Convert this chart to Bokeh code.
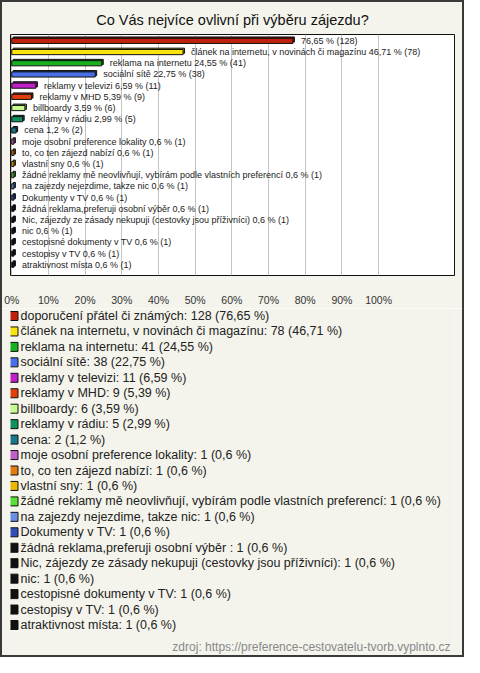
from bokeh.plotting import figure
from bokeh.models import Range1d, FixedTicker, ColumnDataSource, Label, InlineStyleSheet
from bokeh.layouts import column
from bokeh.core.properties import value
from bokeh.transform import dodge
from bokeh.embed import file_html
from bokeh.resources import INLINE

title_text = "Co Vás nejvíce ovlivní při výběru zájezdu?"
source_text = "zdroj: https://preference-cestovatelu-tvorb.vyplnto.cz"

categories = [
    "doporučení přátel či známých",
    "článek na internetu, v novinách či magazínu",
    "reklama na internetu",
    "sociální sítě",
    "reklamy v televizi",
    "reklamy v MHD",
    "billboardy",
    "reklamy v rádiu",
    "cena",
    "moje osobní preference lokality",
    "to, co ten zájezd nabízí",
    "vlastní sny",
    "žádné reklamy mě neovlivňují, vybírám podle vlastních preferencí",
    "na zajezdy nejezdime, takze nic",
    "Dokumenty v TV",
    "žádná reklama,preferuji osobní výběr ",
    "Nic, zájezdy ze zásady nekupuji (cestovky jsou příživníci)",
    "nic",
    "cestopisné dokumenty v TV",
    "cestopisy v TV",
    "atraktivnost místa",
]
counts = [128, 78, 41, 38, 11, 9, 6, 5, 2, 1, 1, 1, 1, 1, 1, 1, 1, 1, 1, 1, 1]
percents = [76.65, 46.71, 24.55, 22.75, 6.59, 5.39, 3.59, 2.99, 1.2,
            0.6, 0.6, 0.6, 0.6, 0.6, 0.6, 0.6, 0.6, 0.6, 0.6, 0.6, 0.6]
colors = ["#c0200f", "#f8e40c", "#18b01c", "#4a70e8", "#c020c8", "#e0400c",
          "#c8f890", "#10905c", "#1c7888", "#c060c8", "#e07c10", "#e8b800",
          "#58e038", "#6890e0", "#3050b8", "#111111", "#111111", "#111111",
          "#111111", "#111111", "#111111"]
tick_values = [0, 10, 20, 30, 40, 50, 60, 70, 80, 90, 100]
tick_labels = ["0%", "10%", "20%", "30%", "40%", "50%", "60%", "70%", "80%", "90%", "100%"]


def fmt(v):
    return ("%g" % v).replace(".", ",")


def darker(c, f=0.6):
    r, g, b = int(c[1:3], 16), int(c[3:5], 16), int(c[5:7], 16)
    return "#%02x%02x%02x" % (int(r * f), int(g * f), int(b * f))


n = len(categories)
ypos = list(range(n))
bar_labels = [("" if i == 0 else categories[i] + " ") + f"{fmt(percents[i])} % ({counts[i]})" for i in range(n)]
legend_labels = [f"{categories[i]}: {counts[i]} ({fmt(percents[i])} %)" for i in range(n)]

src = ColumnDataSource(dict(
    y=ypos, left=[0] * n, right=percents, color=colors,
    shade=[darker(c) for c in colors], label=bar_labels,
    legend=legend_labels,
))

BG = "#f4f4ec"
FONT = "Liberation Sans"
W = 464
H1 = 308
H2 = 657 - H1
M = 10
BORDER = "#3a3a3a"

# ---------------- chart ----------------
p = figure(width=W, height=H1, output_backend="svg", toolbar_location=None,
           x_range=Range1d(-0.34, 120.7), y_range=Range1d(20.96, -0.57),
           y_axis_location=None,
           min_border_left=M, min_border_right=M, min_border_top=34, min_border_bottom=28)
p.background_fill_color = "white"
p.border_fill_color = BG
p.outline_line_color = "#111111"
p.outline_line_width = 1

p.title.text = title_text
p.title.align = "center"
p.title.text_font = FONT
p.title.text_font_size = "14.5px"
p.title.text_font_style = "normal"
p.title.text_color = "#111111"
p.title.standoff = 14

p.xgrid.grid_line_color = "#c4c4c4"
p.ygrid.grid_line_color = None
ax = p.xaxis[0]
ax.ticker = FixedTicker(ticks=tick_values)
ax.major_label_overrides = {v: l for v, l in zip(tick_values, tick_labels)}
ax.major_tick_line_color = None
ax.minor_tick_line_color = None
ax.axis_line_color = None
ax.major_label_text_font = FONT
ax.major_label_text_font_size = "10.5px"
ax.major_label_text_color = "#333333"
ax.major_label_standoff = 12

# 3D depth of the bars
p.hbar(y=dodge("y", -0.12, range=p.y_range), left=dodge("left", 0.4, range=p.x_range),
       right=dodge("right", 0.4, range=p.x_range), height=0.46, source=src,
       fill_color="shade", line_color="#111111", line_width=1)
p.hbar(y="y", left="left", right="right", height=0.46, source=src,
       fill_color="color", line_color="#111111", line_width=1)
p.text(x="right", y="y", text="label", source=src, x_offset=8,
       text_baseline="middle", text_align="left", text_font=value(FONT),
       text_font_size="9px", text_color="#222222")

# ---------------- legend ----------------
ROW = 15.45
top_px = 7.5
q = figure(width=W, height=H2, output_backend="svg", toolbar_location=None, title=None,
           x_range=Range1d(M, W - M),
           y_range=Range1d((H2 - top_px) / ROW, -top_px / ROW),
           x_axis_location=None, y_axis_location=None,
           min_border=0, min_border_left=M, min_border_right=M,
           min_border_top=0, min_border_bottom=0)
q.background_fill_color = BG
q.border_fill_color = BG
q.outline_line_color = None
q.xgrid.visible = False
q.ygrid.visible = False

LEG_X = 13
q.scatter(x=LEG_X, y="y", source=src, marker="square", size=9,
          fill_color="color", line_color="#111111", line_width=1)
q.text(x=LEG_X, y="y", text="legend", source=src, x_offset=7,
       text_baseline="middle", text_align="left", text_font=value(FONT),
       text_font_size="12.5px", text_color="#222222")
q.add_layout(Label(x=W - 14, y=(338 - top_px) / ROW, text=source_text,
                   text_align="right", text_baseline="middle", text_font=FONT,
                   text_font_size="12px", text_color="#888888"))

frame_css = InlineStyleSheet(css=f"""
:host {{ position: relative; }}
:host::after {{
  content: ""; position: absolute; left: 0; top: 0;
  width: {W}px; height: {H1 + H2}px; box-sizing: border-box;
  border: 2px solid {BORDER}; pointer-events: none; z-index: 100;
}}
""")

layout = column(p, q, spacing=0, stylesheets=[frame_css])

open("out.html", "w").write(file_html(layout, INLINE))
